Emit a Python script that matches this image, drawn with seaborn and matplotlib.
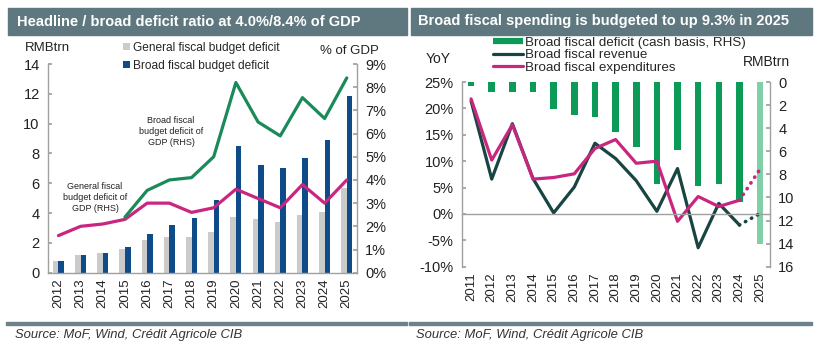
import numpy as np
import pandas as pd
import matplotlib
matplotlib.use("Agg")
import matplotlib.pyplot as plt
import seaborn as sns
from matplotlib.patches import Rectangle
from matplotlib.lines import Line2D
from matplotlib.ticker import FuncFormatter

sns.set_theme(style="white")
plt.rcParams['font.family'] = ['Liberation Sans', 'DejaVu Sans']

# ---------------- data: left chart ----------------
years_l = [str(y) for y in range(2012, 2026)]
general_deficit = [0.8, 1.2, 1.35, 1.62, 2.18, 2.38, 2.38, 2.76, 3.76, 3.57, 3.37, 3.88, 4.06, 5.66]
broad_deficit = [0.8, 1.2, 1.35, 1.7, 2.6, 3.2, 3.7, 4.9, 8.5, 7.2, 7.0, 7.7, 8.9, 11.85]
general_ratio = [1.6, 2.0, 2.1, 2.3, 3.0, 3.0, 2.6, 2.8, 3.6, 3.2, 2.8, 3.8, 3.0, 4.0]
broad_ratio_years = years_l[3:]
broad_ratio = [2.4, 3.55, 4.0, 4.1, 5.0, 8.2, 6.5, 5.9, 7.55, 6.65, 8.4]
series_l = ['General fiscal budget deficit', 'Broad fiscal budget deficit']

# ---------------- data: right chart ----------------
years_r = [str(y) for y in range(2011, 2026)]
deficit_cash = [0.35, 0.9, 0.9, 0.9, 2.35, 2.85, 3.0, 4.3, 5.6, 8.8, 5.9, 9.0, 8.85, 10.4, 14.0]
revenue_yoy = [21.4, 6.6, 17.1, 6.7, 0.2, 5.1, 13.4, 10.5, 6.3, 0.5, 8.6, -6.4, 2.0, -2.1, 0.1]
expend_yoy = [21.8, 10.2, 16.9, 6.6, 6.9, 7.6, 12.4, 14.1, 9.6, 10.0, -1.4, 3.3, 1.4, 2.6, 8.5]
labels_r = ['Broad fiscal deficit (cash basis, RHS)', 'Broad fiscal revenue', 'Broad fiscal expenditures']

# ---------------- styles ----------------
BAND = '#5f7880'
GREY = '#cbcbcb'
NAVY = '#0f4b89'
GREEN_L = '#1a8a58'
PINK = '#c8267f'
BAR_G = '#0c9b57'
BAR_G_LIGHT = '#80cfa7'
DARK = '#184541'
SPINE = '#a0a0a0'
TXT = '#222222'

W, H = 816, 348
def fx(px):
    return px / W
def fy(py):
    return 1 - py / H

fig = plt.figure(figsize=(8.16, 3.48), dpi=100)

# title bands and bottom rules
for x0, x1, title, tx in [(8, 407, 'Headline / broad deficit ratio at 4.0%/8.4% of GDP', 17),
                          (411, 812, 'Broad fiscal spending is budgeted to up 9.3% in 2025', 418)]:
    fig.patches.append(Rectangle((fx(x0), fy(35)), fx(x1) - fx(x0), fy(8) - fy(35),
                                 transform=fig.transFigure, color=BAND, zorder=0))
    fig.text(fx(tx), fy(21.5), title, color='white', weight='bold', size=10.5, va='center', ha='left')
    fig.patches.append(Rectangle((fx(x0 - 2), fy(324.5)), fx(x1) - fx(x0 - 2), 3 / H,
                                 transform=fig.transFigure, color='#6c8189', zorder=0))
    fig.text(fx(tx - 2), fy(335), 'Source: MoF, Wind, Crédit Agricole CIB', style='italic',
             size=9.4, color='#333333', va='center', ha='left')

# ================= left chart =================
axL = fig.add_axes([fx(48), fy(272.7), fx(357) - fx(48), fy(64) - fy(272.7)])
dfL = pd.DataFrame({'year': years_l * 2,
                    'value': general_deficit + broad_deficit,
                    'series': [series_l[0]] * len(years_l) + [series_l[1]] * len(years_l)})
sns.barplot(data=dfL, x='year', y='value', hue='series', hue_order=series_l,
            palette=[GREY, NAVY], width=0.5, saturation=1, linewidth=0,
            errorbar=None, ax=axL)
axL2 = axL.twinx()
pos_l = np.arange(len(years_l))
sns.lineplot(x=pos_l, y=general_ratio, ax=axL2, color=PINK, lw=2.3)
sns.lineplot(x=[years_l.index(y) for y in broad_ratio_years], y=broad_ratio,
             ax=axL2, color=GREEN_L, lw=2.3)

axL.set_xlim(-0.47, 13.46)
axL.set_ylim(0, 14)
axL2.set_ylim(0, 9)
axL.set_yticks(range(0, 15, 2))
axL2.set_yticks(range(0, 10))
axL2.yaxis.set_major_formatter(FuncFormatter(lambda v, p: f'{v:.0f}%'))
axL.set_xticks(pos_l)
axL.set_xticklabels(years_l, rotation=90)
axL.set_xticks(np.arange(0.5, len(years_l) - 1, 1), minor=True)
for a in (axL, axL2):
    a.set_xlabel('')
    a.set_ylabel('')
    for s in a.spines.values():
        s.set_color(SPINE)
        s.set_linewidth(1)
axL.spines['top'].set_visible(False)
axL.spines['right'].set_visible(False)
for s in ('top', 'left', 'bottom'):
    axL2.spines[s].set_visible(False)
axL.tick_params(axis='y', direction='in', length=3, color=SPINE, labelcolor=TXT, labelsize=10.5, pad=6)
axL2.tick_params(axis='y', direction='in', length=3, color=SPINE, labelcolor=TXT, labelsize=10.5, pad=6)
axL.tick_params(axis='x', which='major', length=0, labelcolor=TXT, labelsize=9.5, pad=4)
axL.tick_params(axis='x', which='minor', length=3, direction='out', color=SPINE)

sns.move_legend(axL, 'upper left', bbox_to_anchor=(fx(123), fy(41.5)), bbox_transform=fig.transFigure,
                frameon=False, title=None, fontsize=8.6, handlelength=0.55, handleheight=0.55,
                handletextpad=0.3, labelspacing=0.55, borderpad=0, borderaxespad=0)

fig.text(fx(47), fy(48), 'RMBtrn', size=9.5, ha='center', va='center', color=TXT)
fig.text(fx(349), fy(51), '% of GDP', size=9.5, ha='center', va='center', color=TXT)
fig.text(fx(171), fy(131.5), 'Broad fiscal\nbudget deficit of\nGDP (RHS)', size=6.5,
         ha='center', va='center', color=TXT, linespacing=1.25)
fig.text(fx(95), fy(197.5), 'General fiscal\nbudget deficit of\nGDP (RHS)', size=6.5,
         ha='center', va='center', color=TXT, linespacing=1.25)

# ================= right chart =================
axR = fig.add_axes([fx(462), fy(266.7), fx(770) - fx(462), fy(82) - fy(266.7)])
axR2 = axR.twinx()
bar_colors = [BAR_G] * (len(years_r) - 1) + [BAR_G_LIGHT]
sns.barplot(x=years_r, y=deficit_cash, hue=years_r, palette=bar_colors, legend=False,
            width=0.32, saturation=1, linewidth=0, errorbar=None, ax=axR2)
axR2.set_ylim(16, 0)

pos_r = np.arange(len(years_r))
sns.lineplot(x=pos_r[:-1], y=revenue_yoy[:-1], ax=axR, color=DARK, lw=2.3)
sns.lineplot(x=pos_r[:-1], y=expend_yoy[:-1], ax=axR, color=PINK, lw=2.3)
sns.lineplot(x=pos_r[-2:], y=revenue_yoy[-2:], ax=axR, color=DARK, lw=2.6,
             linestyle=(0, (0.1, 1.8)), dash_capstyle='round')
sns.lineplot(x=pos_r[-2:], y=expend_yoy[-2:], ax=axR, color=PINK, lw=2.6,
             linestyle=(0, (0.1, 1.8)), dash_capstyle='round')
axR.set_zorder(axR2.get_zorder() + 1)
axR.patch.set_visible(False)

axR.set_xlim(-0.44, 14.48)
axR.set_ylim(-10, 25)
axR.set_yticks(range(-10, 26, 5))
axR.yaxis.set_major_formatter(FuncFormatter(lambda v, p: f'{v:.0f}%'))
axR2.set_yticks(range(0, 17, 2))
axR.set_xticks(pos_r)
axR.set_xticks(np.arange(0.5, len(years_r) - 1, 1), minor=True)
axR.tick_params(axis='x', which='major', length=0, labelbottom=False)
axR.tick_params(axis='x', which='minor', length=3, direction='out', color=SPINE)
for a in (axR, axR2):
    a.set_xlabel('')
    a.set_ylabel('')
    for s in a.spines.values():
        s.set_color(SPINE)
        s.set_linewidth(1)
axR.spines['top'].set_visible(False)
axR.spines['right'].set_visible(False)
axR.spines['bottom'].set_position(('data', 0))
for s in ('top', 'left', 'bottom'):
    axR2.spines[s].set_visible(False)
axR.tick_params(axis='y', direction='in', length=3, color=SPINE, labelcolor=TXT, labelsize=10.5, pad=6)
axR2.tick_params(axis='y', direction='in', length=3, color=SPINE, labelcolor=TXT, labelsize=10.5, pad=6)

sec = axR.secondary_xaxis('bottom')
sec.set_xticks(pos_r)
sec.set_xticklabels(years_r, rotation=90)
sec.tick_params(axis='x', length=0, labelcolor=TXT, labelsize=9.5, pad=4)
for s in sec.spines.values():
    s.set_visible(False)

handles = [Line2D([], [], color=BAR_G, lw=4.5, solid_capstyle='butt'),
           Line2D([], [], color=DARK, lw=2.3),
           Line2D([], [], color=PINK, lw=2.3)]
fig.legend(handles, labels_r, loc='upper left', bbox_to_anchor=(fx(493), fy(36.5)),
           bbox_transform=fig.transFigure, frameon=False, fontsize=9.6, handlelength=2.25,
           handletextpad=0.15, labelspacing=0.02, borderpad=0, borderaxespad=0)
fig.text(fx(438), fy(59), 'YoY', size=10, ha='center', va='center', color=TXT)
fig.text(fx(766), fy(62), 'RMBtrn', size=10, ha='center', va='center', color=TXT)

fig.savefig('out.png', dpi=100)
